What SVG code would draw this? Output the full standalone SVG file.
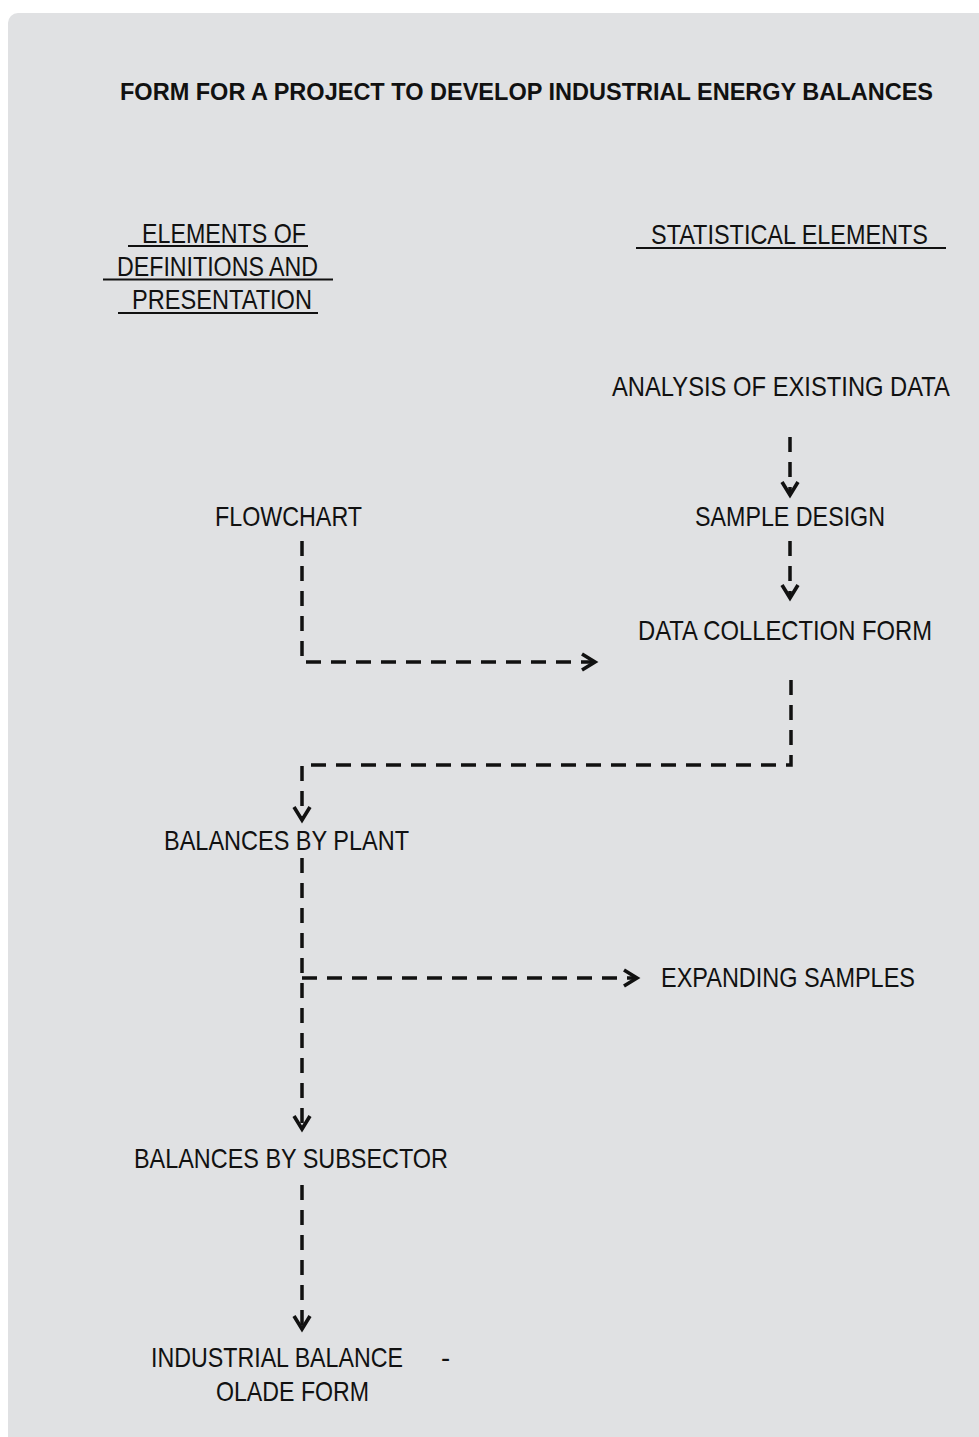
<svg xmlns="http://www.w3.org/2000/svg" width="979" height="1437" viewBox="0 0 979 1437">
  <style>
    .lbl { font-family: "Liberation Sans", Arial, sans-serif; font-size: 27.5px; fill: #111; }
    .ttl { font-family: "Liberation Sans", Arial, sans-serif; font-size: 24.5px; font-weight: bold; fill: #111; }
    .ul { stroke: #111; stroke-width: 2.2; }
    .flow { fill: none; stroke: #111; stroke-width: 3.5; stroke-dasharray: 15 10; marker-end: url(#chev); }
  </style>
  <defs>
    <marker id="chev" markerUnits="userSpaceOnUse" markerWidth="30" markerHeight="30" viewBox="-15 -15 30 30" refX="0" refY="0" orient="auto" overflow="visible">
      <path d="M-13,-8 L0,0 L-13,8" fill="none" stroke="#111" stroke-width="3.6"/>
    </marker>
  </defs>

  <!-- panel -->
  <rect x="8" y="13" width="990" height="1450" rx="10" ry="10" fill="#e0e1e3"/>

  <!-- title -->
  <g id="title">
    <text class="ttl" x="120" y="100" textLength="813" lengthAdjust="spacingAndGlyphs">FORM FOR A PROJECT TO DEVELOP INDUSTRIAL ENERGY BALANCES</text>
  </g>

  <!-- column headings -->
  <g id="head-definitions">
    <text class="lbl" x="142" y="243" textLength="164" lengthAdjust="spacingAndGlyphs">ELEMENTS OF</text>
    <line class="ul" x1="128" y1="246" x2="308" y2="246"/>
    <text class="lbl" x="117" y="276" textLength="201" lengthAdjust="spacingAndGlyphs">DEFINITIONS AND</text>
    <line class="ul" x1="103" y1="279.5" x2="333" y2="279.5"/>
    <text class="lbl" x="132" y="309" textLength="180" lengthAdjust="spacingAndGlyphs">PRESENTATION</text>
    <line class="ul" x1="118" y1="313" x2="318" y2="313"/>
  </g>
  <g id="head-statistical">
    <text class="lbl" x="651" y="244" textLength="277" lengthAdjust="spacingAndGlyphs">STATISTICAL ELEMENTS</text>
    <line class="ul" x1="636" y1="248" x2="946" y2="248"/>
  </g>

  <!-- nodes -->
  <g id="analysis">
    <text class="lbl" transform="translate(612,396) scale(0.85,1)" x="0" y="0" textLength="397.6" lengthAdjust="spacingAndGlyphs">ANALYSIS OF EXISTING DATA</text>
  </g>
  <g id="flowchart">
    <text class="lbl" x="215" y="526" textLength="147" lengthAdjust="spacingAndGlyphs">FLOWCHART</text>
  </g>
  <g id="sample-design">
    <text class="lbl" x="695" y="526" textLength="190" lengthAdjust="spacingAndGlyphs">SAMPLE DESIGN</text>
  </g>
  <g id="data-collection">
    <text class="lbl" x="638" y="640" textLength="294" lengthAdjust="spacingAndGlyphs">DATA COLLECTION FORM</text>
  </g>
  <g id="balances-plant">
    <text class="lbl" x="164" y="850" textLength="245" lengthAdjust="spacingAndGlyphs">BALANCES BY PLANT</text>
  </g>
  <g id="expanding">
    <text class="lbl" x="661" y="987" textLength="254" lengthAdjust="spacingAndGlyphs">EXPANDING SAMPLES</text>
  </g>
  <g id="balances-subsector">
    <text class="lbl" x="134" y="1168" textLength="314" lengthAdjust="spacingAndGlyphs">BALANCES BY SUBSECTOR</text>
  </g>
  <g id="industrial-balance">
    <text class="lbl" transform="translate(151,1367) scale(0.85,1)" x="0" y="0" textLength="296.5" lengthAdjust="spacingAndGlyphs">INDUSTRIAL BALANCE</text>
    <text class="lbl" x="441" y="1367">-</text>
    <text class="lbl" x="216" y="1401" textLength="153" lengthAdjust="spacingAndGlyphs">OLADE FORM</text>
  </g>

  <!-- connectors -->
  <g id="connectors">
    <path class="flow" d="M790,437 V495"/>
    <path class="flow" d="M790,541 V598"/>
    <path class="flow" d="M302,541 V662 H595"/>
    <path class="flow" d="M791,680 V765 H302 V820"/>
    <path class="flow" d="M302,858 V1129"/>
    <path class="flow" d="M302,978 H637"/>
    <path class="flow" d="M302,1185 V1329"/>
  </g>
</svg>
